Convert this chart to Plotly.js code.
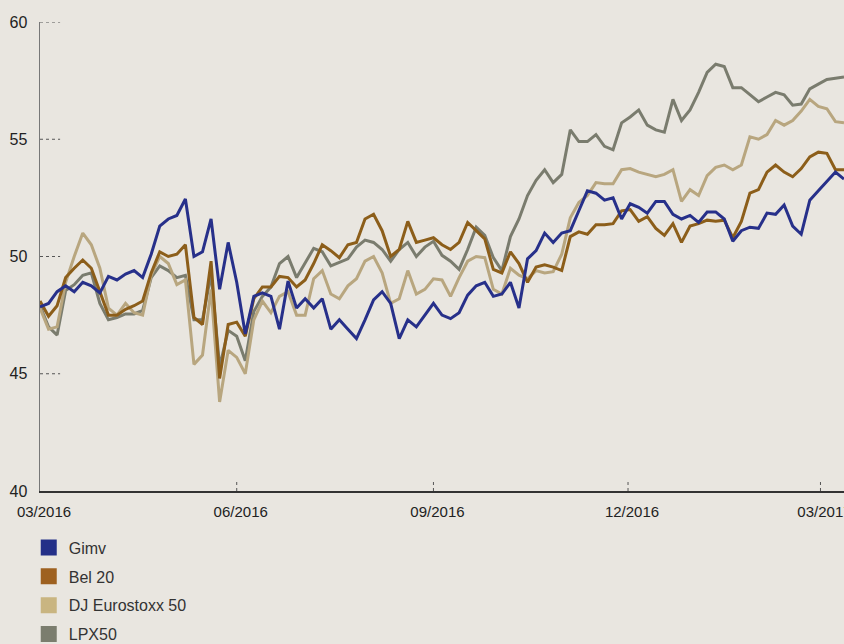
<!DOCTYPE html>
<html>
<head>
<meta charset="utf-8">
<script src="https://cdn.plot.ly/plotly-3.0.1.min.js"></script>
<style>html,body{margin:0;padding:0;background:#e9e6e0;}#chart{width:844px;height:644px;}</style>
</head>
<body>
<div id="chart"></div>
<script>
const dates = [
'2016-03-01','2016-03-05','2016-03-09','2016-03-13','2016-03-17','2016-03-21','2016-03-25','2016-03-29',
'2016-04-02','2016-04-06','2016-04-10','2016-04-14','2016-04-18','2016-04-22','2016-04-26','2016-04-30',
'2016-05-04','2016-05-08','2016-05-12','2016-05-16','2016-05-20','2016-05-24','2016-05-28',
'2016-06-01','2016-06-05','2016-06-09','2016-06-13','2016-06-17','2016-06-21','2016-06-25','2016-06-29',
'2016-07-03','2016-07-07','2016-07-11','2016-07-15','2016-07-19','2016-07-23','2016-07-27','2016-07-31',
'2016-08-04','2016-08-08','2016-08-12','2016-08-16','2016-08-20','2016-08-24','2016-08-28',
'2016-09-01','2016-09-05','2016-09-09','2016-09-13','2016-09-17','2016-09-21','2016-09-25','2016-09-29',
'2016-10-03','2016-10-07','2016-10-11','2016-10-15','2016-10-19','2016-10-23','2016-10-27','2016-10-31',
'2016-11-04','2016-11-08','2016-11-12','2016-11-16','2016-11-20','2016-11-24','2016-11-28',
'2016-12-02','2016-12-06','2016-12-10','2016-12-14','2016-12-18','2016-12-22','2016-12-26','2016-12-30',
'2017-01-03','2017-01-07','2017-01-11','2017-01-15','2017-01-19','2017-01-23','2017-01-27','2017-01-31',
'2017-02-04','2017-02-08','2017-02-12','2017-02-16','2017-02-20','2017-02-24','2017-02-28',
'2017-03-04','2017-03-08','2017-03-12'
];

const gimv = [47.85,48.0,48.5,48.75,48.5,48.9,48.75,48.45,49.15,49.0,
49.25,49.4,49.1,50.1,51.3,51.6,51.75,52.45,50.0,50.2,
51.6,48.6,50.6,48.9,46.7,48.3,48.45,48.3,46.9,48.95,
47.8,48.2,47.8,48.2,46.9,47.3,46.9,46.5,47.3,48.15,
48.5,48.0,46.5,47.3,47.0,47.5,48.0,47.5,47.35,47.6,
48.35,48.75,48.9,48.3,48.4,48.9,47.8,49.9,50.25,51.0,
50.6,51.0,51.1,51.95,52.8,52.7,52.4,52.5,51.6,52.25,
52.1,51.85,52.35,52.35,51.8,51.6,51.75,51.45,51.9,51.9,
51.6,50.65,51.1,51.25,51.2,51.85,51.8,52.2,51.3,50.95,
52.4,52.8,53.2,53.6,53.3];

const bel20 = [48.1,47.45,47.9,49.1,49.5,49.85,49.5,48.5,47.5,47.5,
47.75,47.9,48.1,49.3,50.2,50.0,50.1,50.5,47.4,47.1,
49.8,44.8,47.1,47.2,46.6,48.2,48.7,48.7,49.15,49.1,
48.7,49.0,49.7,50.5,50.25,49.95,50.5,50.6,51.6,51.8,
51.1,50.0,50.3,51.5,50.6,50.7,50.8,50.5,50.3,50.6,
51.45,51.1,50.75,49.45,49.3,50.2,49.7,48.9,49.55,49.65,
49.55,49.4,50.85,51.05,50.95,51.35,51.35,51.4,51.95,52.0,
51.5,51.7,51.2,50.9,51.4,50.6,51.3,51.4,51.55,51.5,
51.55,50.8,51.5,52.7,52.85,53.6,53.9,53.6,53.4,53.75,
54.25,54.45,54.4,53.7,53.7];

const eurostoxx = [47.8,46.9,47.0,48.9,50.0,51.0,50.5,49.5,47.8,47.5,
48.0,47.6,47.5,49.2,50.0,49.7,48.8,49.0,45.4,45.8,
48.6,43.8,46.0,45.7,45.0,47.3,48.1,47.6,48.3,48.5,
47.5,47.5,49.05,49.4,48.4,48.2,48.75,49.05,49.8,50.0,
49.3,48.0,48.2,49.4,48.4,48.6,49.05,49.0,48.3,49.1,
49.8,50.0,49.95,48.6,48.4,49.5,49.2,49.05,49.4,49.3,
49.35,50.1,51.65,52.3,52.6,53.15,53.1,53.1,53.7,53.75,
53.6,53.5,53.4,53.5,53.7,52.35,52.85,52.6,53.45,53.8,
53.9,53.7,53.9,55.1,55.0,55.2,55.8,55.6,55.8,56.2,
56.7,56.4,56.3,55.75,55.7];

const lpx50 = [47.9,47.0,46.65,48.55,48.8,49.2,49.3,48.0,47.3,47.4,
47.55,47.55,47.7,49.1,49.6,49.4,49.1,49.2,47.3,47.3,
49.25,45.3,46.85,46.6,45.55,47.65,48.3,48.7,49.7,50.0,
49.1,49.7,50.35,50.2,49.6,49.75,49.9,50.4,50.7,50.6,
50.3,49.8,50.3,50.6,50.0,50.4,50.65,50.05,49.8,49.45,
50.3,51.25,50.9,49.95,49.4,50.85,51.6,52.6,53.25,53.7,
53.15,53.5,55.4,54.9,54.9,55.2,54.7,54.55,55.7,55.95,
56.25,55.6,55.4,55.3,56.7,55.8,56.25,57.0,57.85,58.2,
58.1,57.2,57.2,56.9,56.6,56.8,57.0,56.9,56.45,56.5,
57.15,57.35,57.55,57.6,57.65];

const seriesNames = ['Gimv','Bel 20','DJ Eurostoxx 50','LPX50'];
const xTickVals = ['2016-03-01','2016-06-01','2016-09-01','2016-12-01','2017-03-01'];
const xTickText = ['03/2016','06/2016','09/2016','12/2016','03/2017'];
const yTickVals = [40,45,50,55,60];

const lineColors = ['#27308a','#8c5e1a','#b8a67f','#7a7c6e'];
const legendColors = ['#243088','#9e6120','#c9b581','#7b7d6e'];
const seriesData = [gimv, bel20, eurostoxx, lpx50];

const traces = [];
// draw order: LPX50, Eurostoxx, Bel 20, Gimv (Gimv on top)
[3,2,1,0].forEach(i => {
  traces.push({
    x: dates, y: seriesData[i], type: 'scatter', mode: 'lines',
    name: seriesNames[i], showlegend: false,
    line: {color: lineColors[i], width: 3},
    hoverinfo: 'skip'
  });
});
// legend entries (square swatches)
[0,1,2,3].forEach(i => {
  traces.push({
    x: [null], y: [null], type: 'scatter', mode: 'markers',
    name: seriesNames[i], legendgroup: 'g' + i, showlegend: true,
    marker: {symbol: 'square', size: 16, color: legendColors[i]}
  });
});

const shapes = [];
yTickVals.filter(v => v > 40).forEach(v => {
  shapes.push({type:'line', xref:'paper', yref:'y', x0:0, x1:0.025, y0:v, y1:v,
    line:{color:'#555', width:1, dash:'dot'}});
});
xTickVals.slice(1).forEach(v => {
  shapes.push({type:'line', xref:'x', yref:'paper', x0:v, x1:v, y0:0, y1:0.023,
    line:{color:'#555', width:1, dash:'dot'}});
});

const layout = {
  width: 844, height: 644,
  paper_bgcolor: '#e9e6e0', plot_bgcolor: '#e9e6e0',
  margin: {l: 40, r: 0, t: 22, b: 153, pad: 0, autoexpand: false},
  font: {family: '"Liberation Sans", Arial, sans-serif', size: 15, color: '#222'},
  showlegend: true,
  legend: {x: -0.014, xanchor: 'left', yref: 'container', y: 0.176, yanchor: 'top', orientation: 'v',
    font: {size: 16, color: '#333'}, tracegroupgap: 5, bgcolor: 'rgba(0,0,0,0)'},
  xaxis: {type: 'date', range: ['2016-03-01','2017-03-12'], tickmode: 'array',
    tickvals: xTickVals, ticktext: xTickText, ticks: '', showgrid: false, zeroline: false,
    showline: true, linecolor: '#333', linewidth: 1.5, tickfont: {size: 15, color: '#222'},
    ticklabelshift: 4, ticklabelstandoff: 6, ticklabeloverflow: 'allow', fixedrange: true},
  yaxis: {range: [40, 60], tickmode: 'array', tickvals: yTickVals, ticktext: yTickVals.map(String),
    ticks: '', showgrid: false, zeroline: false, showline: true, linecolor: '#777', linewidth: 1.5,
    tickfont: {size: 16, color: '#222'}, ticklabelstandoff: 8, fixedrange: true},
  shapes: shapes
};

Plotly.newPlot('chart', traces, layout, {displayModeBar: false, staticPlot: true});
</script>
</body>
</html>
